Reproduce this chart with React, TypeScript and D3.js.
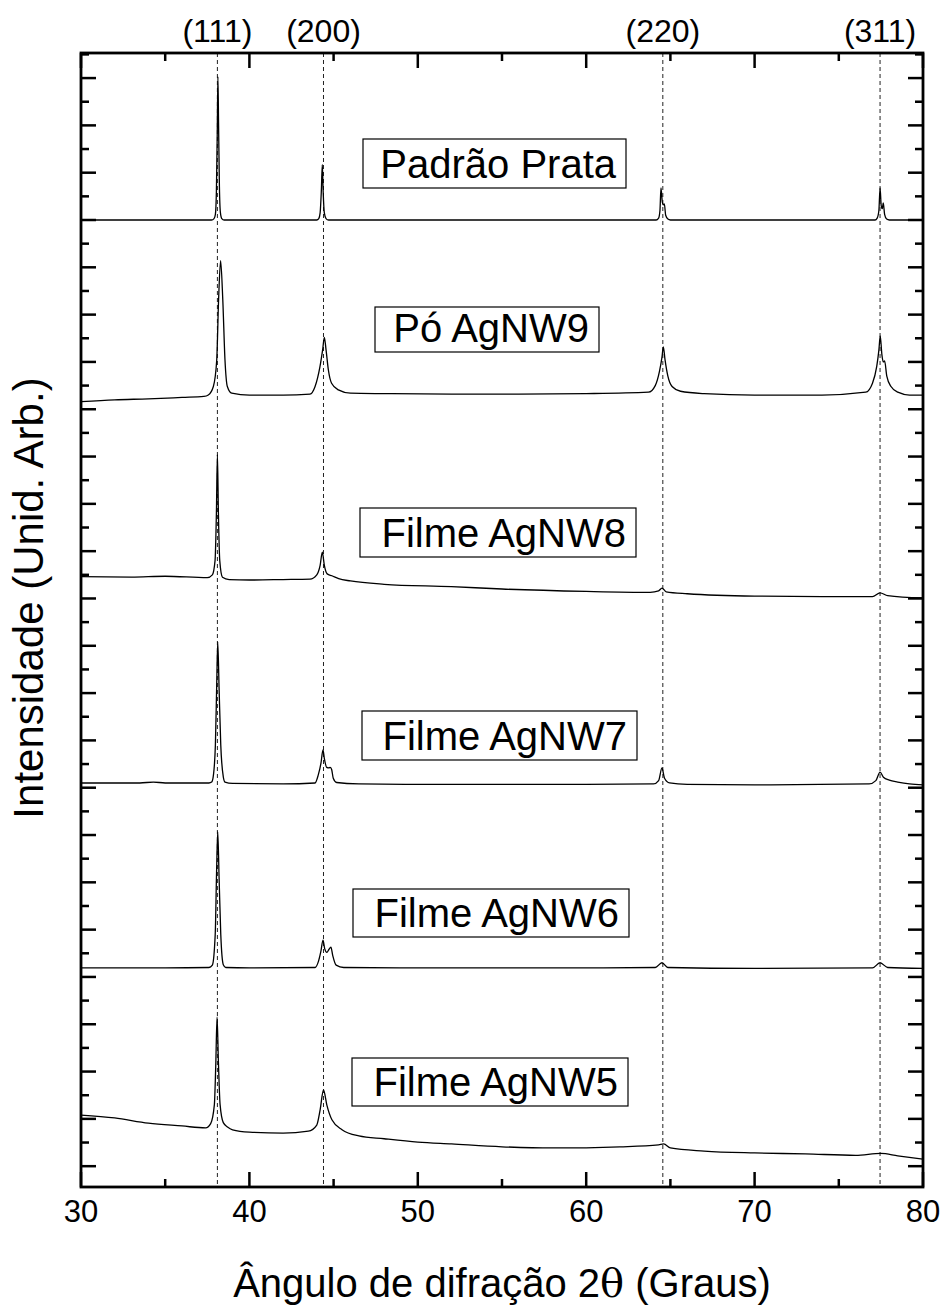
import React from "react";
import * as d3 from "d3";

// ---------- data ----------
const xDomain: [number, number] = [30, 80];
const yDomain: [number, number] = [-0.44, 23.53];
const xMajorTicks = [30, 40, 50, 60, 70, 80];
const xMinorTicks = [35, 45, 55, 65, 75];
const yMajorTicks = [0, 1, 2, 3, 4, 5, 6, 7, 8, 9, 10, 11, 12, 13, 14, 15, 16, 17, 18, 19, 20, 21, 22, 23];
const yMinorTicks = [0.5, 1.5, 2.5, 3.5, 4.5, 5.5, 6.5, 7.5, 8.5, 9.5, 10.5, 11.5, 12.5, 13.5, 14.5, 15.5, 16.5, 17.5, 18.5, 19.5, 20.5, 21.5, 22.5, 23.5];

const hklLabels = ["(111)", "(200)", "(220)", "(311)"];
const hklPositions = [38.1, 44.4, 64.55, 77.45];

const seriesNames = ["Padrão Prata", "Pó AgNW9", "Filme AgNW8", "Filme AgNW7", "Filme AgNW6", "Filme AgNW5"];

const padrao: [number, number][] = [
  [30, 20.0], [37.75, 20.0], [37.9, 20.03], [37.98, 20.12], [38.04, 20.6], [38.09, 21.8], [38.13, 23.03],
  [38.17, 22.0], [38.22, 20.7], [38.28, 20.15], [38.36, 20.03], [38.5, 20.0],
  [44.0, 20.0], [44.12, 20.03], [44.2, 20.15], [44.27, 20.6], [44.33, 21.17], [44.38, 20.6], [44.45, 20.15],
  [44.55, 20.03], [44.7, 20.0],
  [64.15, 20.0], [64.3, 20.04], [64.38, 20.2], [64.44, 20.68], [64.52, 20.38], [64.58, 20.32], [64.64, 20.34],
  [64.72, 20.1], [64.85, 20.02], [65.0, 20.0],
  [77.15, 20.0], [77.28, 20.04], [77.38, 20.2], [77.45, 20.68], [77.52, 20.3], [77.58, 20.24], [77.64, 20.36],
  [77.72, 20.12], [77.84, 20.02], [78.0, 20.0], [80, 20.0],
];

const po9: [number, number][] = [
  [30, 16.16], [32, 16.2], [34, 16.22], [36, 16.25], [37.3, 16.27], [37.56, 16.3], [37.86, 16.48], [38.06, 17.04],
  [38.17, 18.31], [38.29, 19.14], [38.42, 18.31], [38.55, 17.04], [38.69, 16.48], [38.95, 16.34], [40, 16.3],
  [42, 16.3], [43.6, 16.32], [43.9, 16.48], [44.19, 16.9], [44.35, 17.26], [44.45, 17.52], [44.55, 17.26],
  [44.69, 16.83], [44.88, 16.55], [45.28, 16.41], [46.0, 16.34], [48, 16.33], [52, 16.32], [56, 16.32], [60, 16.33],
  [63.7, 16.36], [64.1, 16.5], [64.35, 16.8], [64.5, 17.1], [64.58, 17.32], [64.68, 17.05], [64.85, 16.7],
  [65.1, 16.48], [65.6, 16.38], [67, 16.33], [70, 16.3], [74, 16.3], [76.6, 16.36], [77.0, 16.55], [77.25, 16.9],
  [77.38, 17.25], [77.46, 17.55], [77.56, 17.15], [77.64, 17.0], [77.72, 17.02], [77.85, 16.7], [78.1, 16.48],
  [78.5, 16.36], [79.2, 16.3], [80, 16.3],
];

const filme8: [number, number][] = [
  [30, 12.46], [33, 12.45], [35, 12.47], [37.5, 12.44], [37.8, 12.5], [37.96, 12.8], [38.04, 13.8], [38.1, 15.04],
  [38.16, 13.8], [38.24, 12.8], [38.4, 12.45], [38.8, 12.4], [40, 12.39], [42, 12.4], [43.6, 12.41], [44.0, 12.5],
  [44.2, 12.7], [44.33, 12.98], [44.45, 12.7], [44.62, 12.52], [44.9, 12.48], [45.3, 12.42], [46, 12.37],
  [48, 12.3], [52, 12.25], [55, 12.2], [60, 12.15], [63.8, 12.13], [64.3, 12.16], [64.5, 12.22], [64.75, 12.14],
  [66, 12.1], [70, 12.05], [74, 12.04], [77.0, 12.04], [77.45, 12.12], [77.9, 12.06], [80, 12.01],
];

const filme7: [number, number][] = [
  [30, 8.1], [33.5, 8.1], [34.3, 8.12], [35, 8.1], [37.6, 8.1], [37.76, 8.12], [37.85, 8.23], [37.98, 8.9],
  [38.06, 10.2], [38.12, 11.08], [38.2, 10.1], [38.3, 8.9], [38.45, 8.23], [38.55, 8.12], [39, 8.09], [42, 8.08],
  [43.9, 8.1], [44.09, 8.27], [44.25, 8.52], [44.37, 8.8], [44.45, 8.62], [44.59, 8.43], [44.72, 8.42],
  [44.79, 8.43], [44.88, 8.39], [44.98, 8.2], [45.18, 8.11], [46.5, 8.08], [50, 8.07], [55, 8.07], [60, 8.07],
  [64.0, 8.08], [64.3, 8.15], [64.5, 8.42], [64.65, 8.2], [64.95, 8.1], [66, 8.07], [70, 8.06], [76.8, 8.08],
  [77.2, 8.15], [77.45, 8.33], [77.65, 8.22], [78.0, 8.16], [78.5, 8.12], [79.2, 8.08], [80, 8.06],
];

const filme6: [number, number][] = [
  [30, 4.19], [35, 4.19], [37.6, 4.2], [37.8, 4.25], [37.97, 4.9], [38.05, 6.2], [38.12, 7.07], [38.2, 6.1],
  [38.3, 4.9], [38.45, 4.26], [38.6, 4.2], [40, 4.19], [43.9, 4.2], [44.1, 4.33], [44.25, 4.55], [44.37, 4.78],
  [44.47, 4.6], [44.6, 4.52], [44.72, 4.58], [44.84, 4.63], [44.95, 4.45], [45.15, 4.25], [45.6, 4.2],
  [50, 4.19], [60, 4.19], [64.1, 4.2], [64.5, 4.3], [64.85, 4.2], [70, 4.18], [77.0, 4.19], [77.45, 4.3],
  [77.9, 4.2], [80, 4.18],
];

const filme5: [number, number][] = [
  [30, 1.08], [32, 1.02], [34, 0.91], [36, 0.85], [37.4, 0.81], [37.7, 0.9], [37.92, 1.3], [38.0, 2.1],
  [38.08, 3.15], [38.16, 2.2], [38.26, 1.3], [38.45, 0.92], [38.7, 0.83], [39, 0.77], [40, 0.72], [42, 0.7],
  [43.5, 0.74], [44.0, 0.87], [44.2, 1.19], [44.4, 1.61], [44.6, 1.29], [44.9, 0.98], [45.5, 0.77], [46.5, 0.64],
  [48, 0.58], [50, 0.51], [52, 0.47], [55, 0.41], [58, 0.385], [62, 0.41], [64.3, 0.45], [64.6, 0.47],
  [65, 0.385], [67, 0.32], [70, 0.28], [73, 0.26], [76, 0.23], [77.5, 0.27], [78.5, 0.22], [80, 0.15],
];

const allSeries = [padrao, po9, filme8, filme7, filme6, filme5];

// ---------- layout ----------
const W = 945;
const H = 1309;
const plot = { left: 81, right: 923, top: 53, bottom: 1187 };
const boxes = [
  { x: 363, y: 139, w: 263, h: 49 },
  { x: 375, y: 307, w: 224, h: 45 },
  { x: 360, y: 508, w: 276, h: 49 },
  { x: 362, y: 711, w: 275, h: 49 },
  { x: 353, y: 889, w: 276, h: 48 },
  { x: 352, y: 1058, w: 276, h: 48 },
];
const FONT = "'Liberation Sans', Arial, Helvetica, sans-serif";

export default function App() {
  const x = d3.scaleLinear().domain(xDomain).range([plot.left, plot.right]);
  const y = d3.scaleLinear().domain(yDomain).range([plot.bottom, plot.top]);
  const line = d3
    .line<[number, number]>()
    .x((d) => x(d[0]))
    .y((d) => y(d[1]))
    .curve(d3.curveMonotoneX);

  const majorLen = 15;
  const minorLen = 8;

  return (
    <svg width={W} height={H} style={{ display: "block", position: "absolute", left: 0, top: 0 }}>
      <rect x={0} y={0} width={W} height={H} fill="#fff" />
      {/* dashed reference lines */}
      {hklPositions.map((p, i) => (
        <line
          key={"d" + i}
          x1={x(p)}
          x2={x(p)}
          y1={plot.top}
          y2={plot.bottom}
          stroke="#222"
          strokeWidth={1}
          strokeDasharray="4,3"
        />
      ))}
      {/* traces */}
      {allSeries.map((s, i) => (
        <path key={"s" + i} d={line(s) || ""} fill="none" stroke="#000" strokeWidth={1.3} />
      ))}
      {/* label boxes */}
      {seriesNames.map((n, i) => (
        <g key={"b" + i}>
          <rect x={boxes[i].x} y={boxes[i].y} width={boxes[i].w} height={boxes[i].h} fill="#fff" stroke="#000" strokeWidth={1.2} />
          <text
            x={boxes[i].x + boxes[i].w - 10}
            y={boxes[i].y + boxes[i].h - 10}
            textAnchor="end"
            fontFamily={FONT}
            fontSize={40}
            fill="#000"
          >
            {n}
          </text>
        </g>
      ))}
      {/* x ticks, bottom and top */}
      {xMajorTicks.map((t) => (
        <g key={"xm" + t}>
          <line x1={x(t)} x2={x(t)} y1={plot.bottom} y2={plot.bottom - majorLen} stroke="#000" strokeWidth={2.5} />
          <line x1={x(t)} x2={x(t)} y1={plot.top} y2={plot.top + majorLen} stroke="#000" strokeWidth={2.5} />
          <text x={x(t)} y={1222} textAnchor="middle" fontFamily={FONT} fontSize={31} fill="#000">
            {t}
          </text>
        </g>
      ))}
      {xMinorTicks.map((t) => (
        <g key={"xn" + t}>
          <line x1={x(t)} x2={x(t)} y1={plot.bottom} y2={plot.bottom - minorLen} stroke="#000" strokeWidth={2.5} />
          <line x1={x(t)} x2={x(t)} y1={plot.top} y2={plot.top + minorLen} stroke="#000" strokeWidth={2.5} />
        </g>
      ))}
      {/* y ticks, left and right */}
      {yMajorTicks.map((t) => (
        <g key={"ym" + t}>
          <line x1={plot.left} x2={plot.left + majorLen} y1={y(t)} y2={y(t)} stroke="#000" strokeWidth={2.5} />
          <line x1={plot.right} x2={plot.right - majorLen} y1={y(t)} y2={y(t)} stroke="#000" strokeWidth={2.5} />
        </g>
      ))}
      {yMinorTicks.map((t) => (
        <g key={"yn" + t}>
          <line x1={plot.left} x2={plot.left + minorLen} y1={y(t)} y2={y(t)} stroke="#000" strokeWidth={2.5} />
          <line x1={plot.right} x2={plot.right - minorLen} y1={y(t)} y2={y(t)} stroke="#000" strokeWidth={2.5} />
        </g>
      ))}
      {/* frame */}
      <rect
        x={plot.left}
        y={plot.top}
        width={plot.right - plot.left}
        height={plot.bottom - plot.top}
        fill="none"
        stroke="#000"
        strokeWidth={2.8}
      />
      {/* hkl labels */}
      {hklLabels.map((l, i) => (
        <text key={"h" + i} x={x(hklPositions[i])} y={42} textAnchor="middle" fontFamily={FONT} fontSize={32} fill="#000">
          {l}
        </text>
      ))}
      {/* axis titles */}
      <text x={(plot.left + plot.right) / 2} y={1297} textAnchor="middle" fontFamily={FONT} fontSize={40} fill="#000">
        Ângulo de difração 2<tspan fontFamily="'DejaVu Serif', 'Liberation Serif', serif">θ</tspan> (Graus)
      </text>
      <text
        transform="translate(43, 598) rotate(-90)"
        textAnchor="middle"
        fontFamily={FONT}
        fontSize={42}
        fill="#000"
      >
        Intensidade (Unid. Arb.)
      </text>
    </svg>
  );
}
